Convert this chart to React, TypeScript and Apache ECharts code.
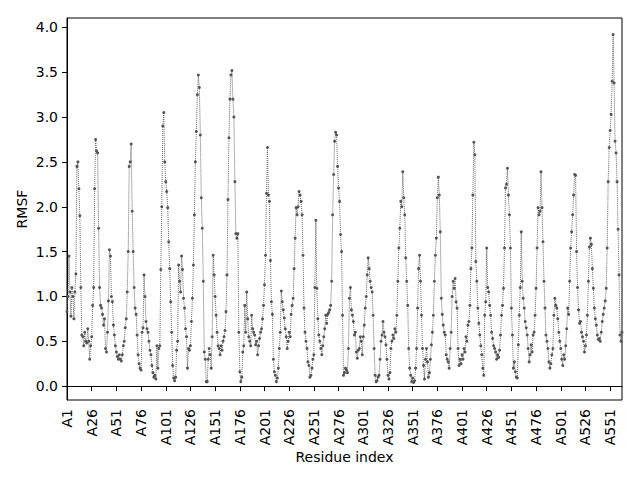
import React, { useEffect, useRef } from "react";
import * as echarts from "echarts";

// RMSF per residue (A1 .. A563)
const rmsfA1toA100 = [
  0.83, 1.0, 1.45, 1.05, 0.78, 1.1, 1.0, 0.75, 1.05, 1.25, 2.45, 2.5, 2.2, 1.9, 1.1, 0.57, 0.55, 0.45, 0.6, 0.5, 0.48, 0.64, 0.5, 0.3, 0.45,
  0.55, 0.9, 1.1, 2.2, 2.75, 2.62, 2.6, 1.76, 1.1, 0.9, 0.87, 0.8, 0.68, 0.75, 0.42, 0.38, 0.6, 0.95, 1.52, 1.45, 1.0, 0.94, 0.68, 0.57, 0.45,
  0.38, 0.33, 0.3, 0.35, 0.3, 0.28, 0.35, 0.45, 0.5, 0.65, 0.75, 1.05, 1.5, 2.45, 2.5, 2.7, 1.95, 1.5, 1.1, 0.87, 0.8, 0.57, 0.35, 0.25, 0.2,
  0.18, 0.6, 0.65, 1.24, 1.0, 0.72, 0.64, 0.6, 0.5, 0.4, 0.35, 0.23, 0.15, 0.1, 0.12, 0.08, 0.45, 0.2, 0.42, 0.45, 1.3, 2.0, 2.9, 3.05, 2.5,
];
const rmsfA101toA200 = [
  2.28, 2.17, 1.99, 1.61, 1.31, 0.94, 0.6, 0.23, 0.09, 0.06, 0.1, 0.4, 0.5, 1.35, 1.17, 1.05, 1.45, 1.3, 0.98, 0.87, 0.64, 0.55, 0.2, 0.42, 0.4,
  0.45, 0.72, 0.98, 1.35, 1.91, 2.5, 2.84, 3.25, 3.47, 3.33, 2.8, 2.1, 1.76, 1.17, 0.38, 0.3, 0.05, 0.05, 0.3, 0.42, 0.35, 0.2, 0.55, 1.46, 1.24,
  1.0, 0.79, 0.6, 0.45, 0.42, 0.35, 0.45, 0.4, 0.5, 0.55, 0.62, 0.83, 1.24, 2.08, 2.77, 3.2, 3.47, 3.52, 3.2, 3.0, 2.28, 1.7, 1.65, 1.7, 0.6,
  0.16, 0.05, 0.1, 0.38, 0.45, 0.9, 0.6, 1.05, 0.75, 0.55, 0.5, 0.45, 0.79, 0.64, 0.6, 0.57, 0.46, 0.5, 0.35, 0.45, 0.53, 0.6, 0.64, 0.75, 0.9,
];
const rmsfA201toA300 = [
  1.13, 1.46, 2.15, 2.66, 2.13, 2.06, 1.4, 0.94, 0.8, 0.3, 0.16, 0.12, 0.05, 0.09, 0.2, 0.42, 0.6, 1.06, 0.94, 0.85, 0.76, 0.64, 0.55, 0.42, 0.5,
  0.6, 0.55, 0.8, 0.9, 0.98, 1.31, 1.65, 1.99, 1.91, 2.0, 2.17, 2.13, 2.06, 1.91, 1.46, 0.87, 0.6, 0.5, 0.42, 0.27, 0.23, 0.1, 0.12, 0.2, 0.3,
  0.35, 1.1, 1.85, 1.09, 0.75, 0.57, 0.5, 0.42, 0.35, 0.45, 0.55, 0.64, 0.79, 0.7, 0.8, 0.82, 0.85, 0.9, 1.17, 1.91, 2.36, 2.73, 2.83, 2.8, 2.45,
  2.21, 2.06, 1.69, 1.5, 0.79, 0.12, 0.15, 0.2, 0.18, 0.15, 0.42, 0.98, 1.1, 0.85, 0.79, 0.72, 0.57, 0.6, 0.38, 0.31, 0.4, 0.42, 0.55, 0.5, 0.35,
];
const rmsfA301toA400 = [
  0.55, 0.68, 0.87, 1.0, 1.24, 1.43, 1.31, 1.17, 1.1, 1.05, 0.79, 0.42, 0.12, 0.05, 0.06, 0.1, 0.12, 0.3, 0.5, 0.57, 0.72, 0.6, 0.55, 0.46, 0.3,
  0.12, 0.08, 0.15, 0.42, 0.5, 0.57, 0.53, 0.64, 0.6, 0.79, 1.17, 1.54, 1.76, 2.06, 2.0, 2.39, 2.1, 1.91, 1.43, 1.17, 0.9, 0.42, 0.2, 0.12, 0.05,
  0.09, 0.04, 0.06, 0.2, 0.42, 0.87, 1.31, 1.46, 1.17, 0.79, 0.42, 0.23, 0.08, 0.3, 0.42, 0.27, 0.1, 0.15, 0.3, 0.46, 0.6, 0.79, 1.17, 1.46, 1.65,
  2.1, 2.33, 2.13, 1.72, 0.98, 0.8, 0.68, 0.6, 0.57, 0.35, 0.3, 0.27, 0.2, 0.42, 0.6, 1.0, 1.17, 1.09, 1.2, 0.94, 0.87, 0.42, 0.23, 0.3, 0.25,
];
const rmsfA401toA500 = [
  0.35, 0.3, 0.42, 0.38, 0.55, 0.5, 0.68, 0.72, 0.9, 1.31, 1.54, 2.13, 2.72, 2.58, 1.39, 1.17, 0.87, 0.7, 0.57, 0.45, 0.35, 0.2, 0.12, 0.79, 0.94,
  1.54, 1.1, 1.05, 0.9, 0.79, 0.6, 0.53, 0.45, 0.42, 0.38, 0.3, 0.35, 0.32, 0.4, 0.57, 0.79, 0.9, 1.09, 1.54, 2.21, 2.25, 2.43, 2.13, 1.91, 1.54,
  0.87, 0.57, 0.2, 0.27, 0.16, 0.1, 0.09, 0.46, 0.79, 1.1, 1.72, 1.17, 0.98, 0.87, 0.72, 0.65, 0.57, 0.42, 0.27, 0.35, 0.46, 0.38, 0.57, 0.6, 0.79,
  1.09, 1.54, 1.99, 1.91, 1.95, 2.39, 1.99, 1.61, 1.17, 0.87, 0.57, 0.5, 0.42, 0.27, 0.2, 0.25, 0.35, 0.42, 0.79, 0.98, 0.9, 0.87, 0.75, 0.6, 0.5,
];
const rmsfA501toA563 = [
  0.42, 0.3, 0.23, 0.35, 0.3, 0.45, 0.64, 0.87, 0.8, 1.17, 1.54, 1.72, 1.91, 2.13, 2.36, 2.35, 1.5, 1.1, 0.85, 0.7, 0.72, 0.6, 0.55, 0.5, 0.38,
  0.45, 0.57, 0.79, 1.17, 1.55, 1.65, 1.58, 1.31, 1.09, 0.87, 0.75, 0.68, 0.57, 0.52, 0.53, 0.5, 0.6, 0.72, 0.8, 0.87, 0.95, 1.09, 1.54, 2.28, 2.66,
  2.85, 3.03, 3.4, 3.92, 3.38, 2.73, 2.6, 2.28, 1.75, 1.24, 0.57, 0.5, 0.6,
];

const rmsf = [
  ...rmsfA1toA100,
  ...rmsfA101toA200,
  ...rmsfA201toA300,
  ...rmsfA301toA400,
  ...rmsfA401toA500,
  ...rmsfA501toA563,
];
const residues = rmsf.map((_, i) => `A${i + 1}`);
const yTicks = [0, 0.5, 1, 1.5, 2, 2.5, 3, 3.5, 4];
const labelEvery = 25;

const FONT = "DejaVu Sans";

export default function App() {
  const ref = useRef<HTMLDivElement>(null);
  useEffect(() => {
    if (!ref.current) return;
    const chart = echarts.init(ref.current, null, { renderer: "svg" });
    const showTick = (i: number) => i % labelEvery === 0;
    chart.setOption({
      animation: false,
      backgroundColor: "#fff",
      grid: {
        left: 67,
        right: 18,
        top: 18,
        bottom: 80,
        show: true,
        borderColor: "#000",
        borderWidth: 1,
        backgroundColor: "transparent",
      },
      xAxis: {
        type: "category",
        data: residues,
        boundaryGap: false,
        name: "Residue index",
        nameLocation: "middle",
        nameGap: 50,
        nameMoveOverlap: false,
        nameTextStyle: { fontFamily: FONT, fontSize: 14, color: "#000" },
        axisLine: { lineStyle: { color: "#000", width: 1 } },
        axisTick: { interval: showTick, length: 5, lineStyle: { color: "#000" } },
        axisLabel: {
          interval: showTick,
          rotate: 90,
          margin: 9,
          fontFamily: FONT,
          fontSize: 14,
          color: "#000",
        },
        splitLine: { show: false },
      },
      yAxis: {
        type: "value",
        min: -0.155,
        max: 4.105,
        name: "RMSF",
        nameLocation: "middle",
        nameGap: 38,
        nameRotate: 90,
        nameMoveOverlap: false,
        nameTextStyle: { fontFamily: FONT, fontSize: 14, color: "#000" },
        axisLine: { show: true, lineStyle: { color: "#000", width: 1 } },
        axisTick: { show: true, customValues: yTicks, length: 5, lineStyle: { color: "#000" } },
        axisLabel: {
          customValues: yTicks,
          formatter: (v: number) => v.toFixed(1),
          margin: 9,
          fontFamily: FONT,
          fontSize: 14,
          color: "#000",
        },
        splitLine: { show: false },
      },
      series: [
        {
          type: "line",
          data: rmsf,
          showSymbol: true,
          showAllSymbol: true,
          symbol: "circle",
          symbolSize: 3,
          lineStyle: { type: "dotted", width: 1, color: "#666" },
          itemStyle: { color: "#555" },
          emphasis: { disabled: true },
        },
      ],
    });
    return () => chart.dispose();
  }, []);
  return (
    <div
      ref={ref}
      style={{ position: "fixed", left: 0, top: 0, width: 640, height: 480 }}
    />
  );
}
